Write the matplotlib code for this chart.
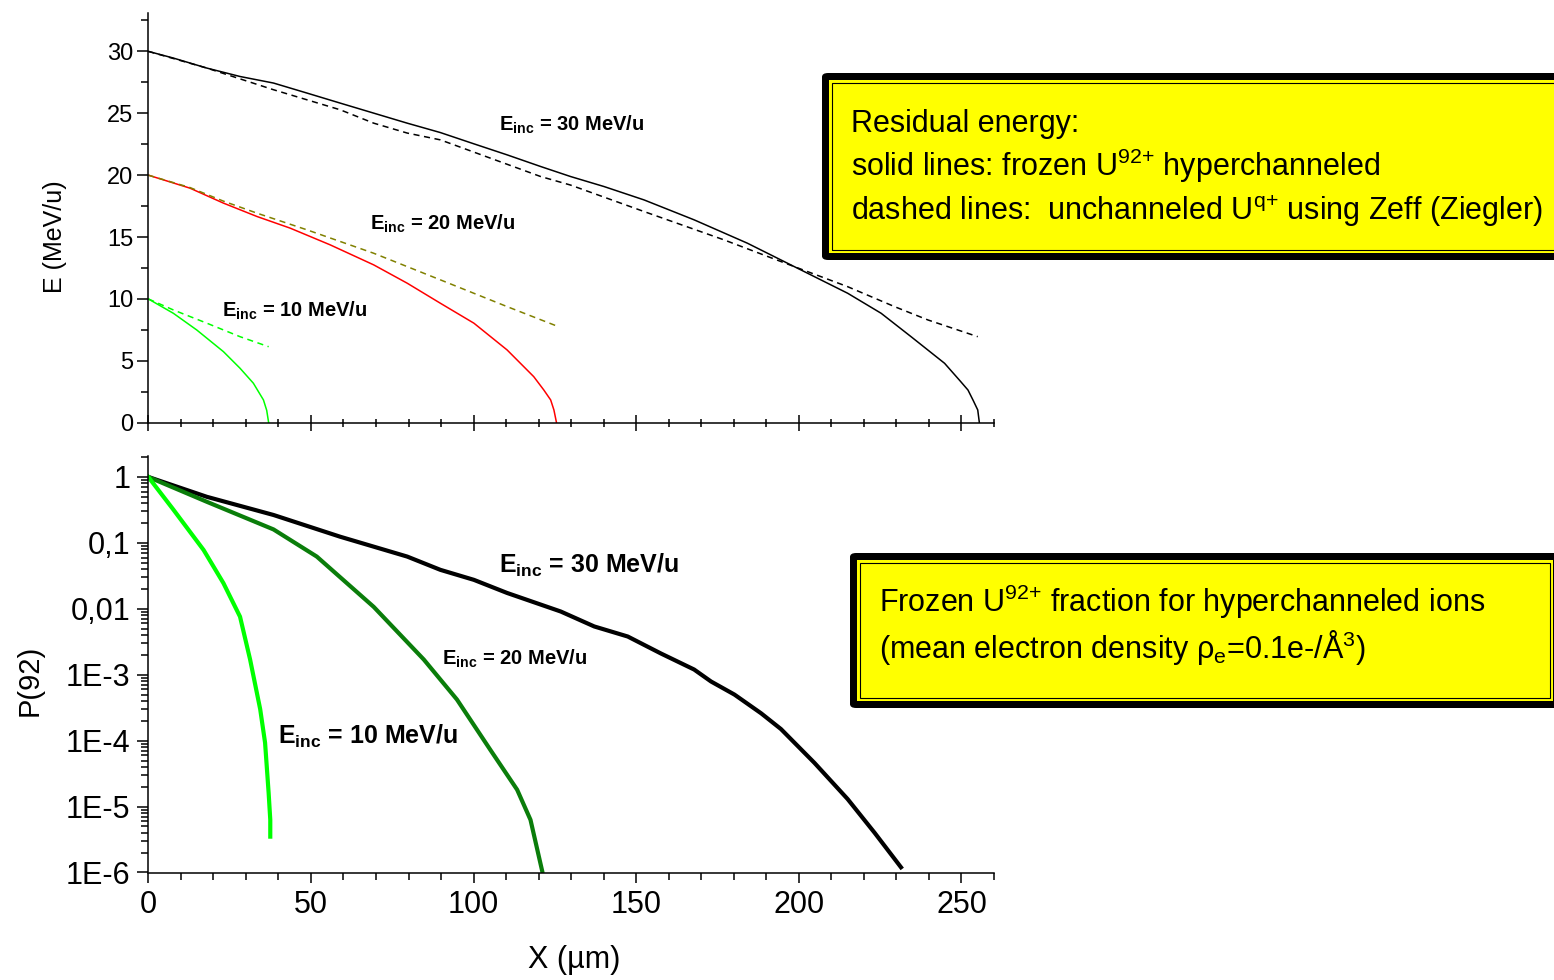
import numpy as np
import matplotlib
matplotlib.use('Agg')
import matplotlib.pyplot as plt
from matplotlib.patches import Rectangle, FancyBboxPatch
from matplotlib.ticker import MultipleLocator, FixedLocator, FixedFormatter, LogLocator, NullFormatter

plt.rcParams.update({
    'font.family': ['Liberation Sans', 'DejaVu Sans'],
    'mathtext.fontset': 'custom',
    'mathtext.rm': 'Liberation Sans',
    'mathtext.bf': 'Liberation Sans:bold',
    'mathtext.it': 'Liberation Sans:italic',
    'axes.linewidth': 1.1,
})

# ---- residual energy (top panel) ----
x_e30 = [0, 7.7, 18.0, 28.2, 38.5, 48.8, 59.0, 69.3, 79.6, 89.8, 100.1, 110.3, 120.6, 129.8,
         140.1, 152.4, 167.8, 184.2, 198.6, 215.0, 225.3, 234.5, 244.8, 249.5, 252.0, 253.6, 255.0, 255.5]
e30 = [30.0, 29.46, 28.65, 27.97, 27.44, 26.63, 25.82, 25.01, 24.2, 23.44, 22.53, 21.64, 20.7, 19.89,
       19.08, 18.0, 16.39, 14.5, 12.61, 10.46, 8.84, 6.95, 4.8, 3.4, 2.64, 1.8, 1.03, 0.0]
x_e30_unch = [0, 18.0, 38.5, 59.0, 69.3, 79.6, 89.8, 105.2, 120.6, 129.8, 152.4, 177.0,
              198.6, 215.0, 229.4, 239.7, 255.0]
e30_unch = [30.0, 28.65, 26.9, 25.28, 24.2, 23.4, 22.85, 21.37, 19.89, 19.2, 17.06, 14.77,
            12.61, 10.99, 9.38, 8.3, 6.95]

x_e20 = [0, 12.8, 23.1, 33.4, 43.6, 55.9, 69.3, 79.6, 89.8, 100.1, 110.3, 118.5, 121.6, 123.7, 124.7, 125.5]
e20 = [20.0, 18.95, 17.74, 16.66, 15.72, 14.37, 12.75, 11.27, 9.65, 8.04, 5.88, 3.72, 2.64, 1.84, 1.03, 0.0]
x_e20_unch = [0, 12.8, 23.1, 33.4, 48.8, 69.3, 89.8, 110.3, 125.5]
e20_unch = [20.0, 19.0, 17.9, 16.93, 15.58, 13.69, 11.54, 9.38, 7.82]

x_e10 = [0, 7.7, 14.9, 23.1, 28.2, 32.3, 35.4, 36.4, 37.0]
e10 = [10.0, 8.84, 7.49, 5.74, 4.4, 3.19, 1.84, 1.0, 0.0]
x_e10_unch = [0, 7.7, 18.0, 28.2, 37.0]
e10_unch = [10.0, 9.11, 8.04, 6.95, 6.14]

# ---- frozen U92+ fraction (bottom panel) ----
x_p30 = [0, 18.0, 38.5, 59.0, 79.6, 89.8, 100.1, 110.3, 126.8, 137.1, 147.4, 157.6, 167.8,
         173.0, 180.2, 188.4, 194.5, 204.8, 215.0, 223.3, 231.4]
p30 = [1.0, 0.50, 0.265, 0.124, 0.062, 0.039, 0.0275, 0.0174, 9.1e-3, 5.4e-3, 3.8e-3, 2.1e-3, 1.2e-3,
       7.9e-4, 5.0e-4, 2.6e-4, 1.5e-4, 4.6e-5, 1.3e-5, 4.0e-6, 1.2e-6]
x_p20 = [0, 18.0, 38.5, 51.8, 69.3, 84.7, 94.9, 105.2, 113.4, 117.5, 121.1]
p20 = [1.0, 0.42, 0.16, 0.062, 0.0107, 1.7e-3, 4.2e-4, 7.2e-5, 1.8e-5, 6.3e-6, 1.05e-6]
x_p10 = [0, 7.7, 17.0, 23.1, 28.2, 31.3, 34.4, 35.9, 37.0, 37.5, 37.5]
p10 = [1.0, 0.32, 0.078, 0.0245, 7.6e-3, 1.7e-3, 3.0e-4, 9.3e-5, 1.6e-5, 6.3e-6, 3.5e-6]

p_ticks = [1, 0.1, 0.01, 1e-3, 1e-4, 1e-5, 1e-6]
p_ticklabels = ['1', '0,1', '0,01', '1E-3', '1E-4', '1E-5', '1E-6']

W, H = 1554, 980
fig = plt.figure(figsize=(W / 100, H / 100), dpi=100)


def fx(px):
    return px / W


def fy(py):
    return 1 - py / H


ax1 = fig.add_axes([fx(148.3), fy(422.7), (994 - 148.3) / W, (422.7 - 13) / H])
ax2 = fig.add_axes([fx(148.3), fy(872.5), (994 - 148.3) / W, (872.5 - 456) / H])

lw_thin = 1.1
dash = (4, 3)
ax1.plot(x_e30, e30, color='black', lw=lw_thin)
ax1.plot(x_e30_unch, e30_unch, color='black', lw=lw_thin, ls=(0, dash))
ax1.plot(x_e20, e20, color='#ff0000', lw=lw_thin)
ax1.plot(x_e20_unch, e20_unch, color='#808000', lw=lw_thin, ls=(0, dash))
ax1.plot(x_e10, e10, color='#00ff00', lw=lw_thin)
ax1.plot(x_e10_unch, e10_unch, color='#00ff00', lw=lw_thin, ls=(0, dash))

ax1.set_xlim(0, 260)
ax1.set_ylim(0, 33.1)
ax1.xaxis.set_major_locator(MultipleLocator(50))
ax1.xaxis.set_minor_locator(MultipleLocator(10))
ax1.yaxis.set_major_locator(MultipleLocator(5))
ax1.yaxis.set_minor_locator(MultipleLocator(2.5))
ax1.tick_params(axis='x', which='major', direction='inout', length=11.5, width=1.1, labelbottom=False)
ax1.tick_params(axis='x', which='minor', direction='inout', length=6, width=1.1)
ax1.tick_params(axis='y', which='major', direction='out', length=8, width=1.1, labelsize=17, pad=3)
ax1.tick_params(axis='y', which='minor', direction='out', length=5, width=1.1)
ax1.set_ylabel('E (MeV/u)', fontsize=18, va='center')
ax1.yaxis.set_label_coords((55 - 148.3) / 845.7, (422.7 - 237) / 409.7)

lw_thick = 3
ax2.plot(x_p30, p30, color='black', lw=lw_thick)
ax2.plot(x_p20, p20, color='#0a7d0a', lw=lw_thick)
ax2.plot(x_p10, p10, color='#00ff00', lw=lw_thick)
ax2.set_yscale('log')
ax2.set_xlim(0, 260)
ax2.set_ylim(1e-6, 2.08)
ax2.xaxis.set_major_locator(MultipleLocator(50))
ax2.xaxis.set_minor_locator(MultipleLocator(10))
ax2.yaxis.set_major_locator(FixedLocator(p_ticks))
ax2.yaxis.set_major_formatter(FixedFormatter(p_ticklabels))
ax2.yaxis.set_minor_locator(LogLocator(base=10, subs=np.arange(2, 10), numticks=20))
ax2.yaxis.set_minor_formatter(NullFormatter())
ax2.tick_params(axis='x', which='major', direction='out', length=7.5, width=1.1, labelsize=22, pad=5)
ax2.tick_params(axis='x', which='minor', direction='out', length=4.8, width=1.1)
ax2.tick_params(axis='y', which='major', direction='out', length=8, width=1.1, labelsize=22, pad=5)
ax2.tick_params(axis='y', which='minor', direction='out', length=4.8, width=1.1)
ax2.set_ylabel('P(92)', fontsize=21, va='center')
ax2.yaxis.set_label_coords((30 - 148.3) / 845.7, (872.5 - 680) / 416.5)
ax2.set_xlabel('X (µm)', fontsize=22)
ax2.xaxis.set_label_coords((574 - 148.3) / 845.7, -(945 - 872.5) / 416.5)

for ax in (ax1, ax2):
    ax.spines['top'].set_visible(False)
    ax.spines['right'].set_visible(False)

lab = r'$\mathbf{E}_\mathbf{inc}$ = %d MeV/u'
ax1.text(107.7, 23.6, lab % 30, fontsize=14.5, fontweight='bold', va='baseline')
ax1.text(68.3, 15.57, lab % 20, fontsize=14.5, fontweight='bold', va='baseline')
ax1.text(22.6, 8.57, lab % 10, fontsize=14.5, fontweight='bold', va='baseline')
ax2.text(107.7, 0.0346, lab % 30, fontsize=18, fontweight='bold', va='baseline')
ax2.text(90.3, 1.4e-3, lab % 20, fontsize=14.5, fontweight='bold', va='baseline')
ax2.text(39.8, 9.1e-5, lab % 10, fontsize=18, fontweight='bold', va='baseline')


def draw_box(left, top, right, bottom):
    fig.add_artist(FancyBboxPatch((fx(left), fy(bottom)), fx(right - left), (bottom - top) / H,
                                  boxstyle='round,pad=0,rounding_size=0.004',
                                  transform=fig.transFigure, facecolor='black', edgecolor='none'))
    fig.add_artist(Rectangle((fx(left + 7), fy(bottom - 7)), fx(right - left - 14), (bottom - top - 14) / H,
                             transform=fig.transFigure, facecolor='#ffff00', edgecolor='none'))
    fig.add_artist(Rectangle((fx(left + 10), fy(bottom - 10)), fx(right - left - 20), (bottom - top - 20) / H,
                             transform=fig.transFigure, facecolor='none', edgecolor='black', lw=0.8))


draw_box(822, 73, 1575, 260)
draw_box(850, 553, 1560, 708)

box_fs = 22
fig.text(fx(851), fy(132), 'Residual energy:', fontsize=box_fs, va='baseline')
fig.text(fx(851), fy(176), r'solid lines: frozen U$^{92{+}}$ hyperchanneled', fontsize=box_fs, va='baseline')
fig.text(fx(851), fy(220), r'dashed lines:  unchanneled U$^{\mathrm{q}{+}}$ using Zeff (Ziegler)',
         fontsize=box_fs, va='baseline')
fig.text(fx(879), fy(612), r'Frozen U$^{92{+}}$ fraction for hyperchanneled ions', fontsize=box_fs, va='baseline')
fig.text(fx(879), fy(658), r'(mean electron density ρ$_\mathrm{e}$=0.1e-/Å$^3$)', fontsize=box_fs, va='baseline')

fig.savefig('out.png', dpi=100)
